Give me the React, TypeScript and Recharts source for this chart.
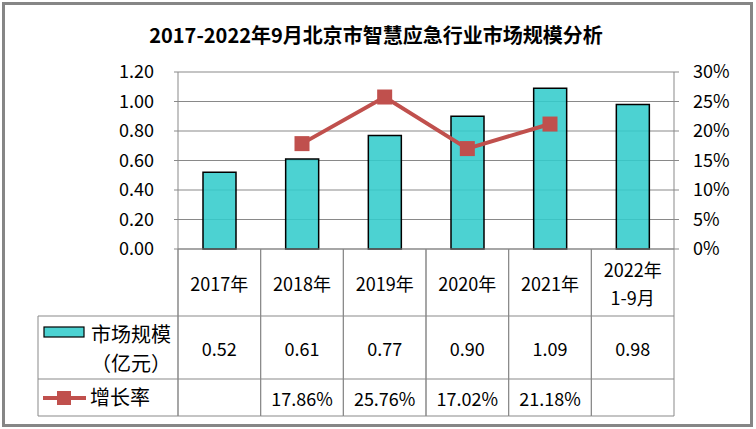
import React from "react";
import { ComposedChart, Bar, Line, XAxis, YAxis, CartesianGrid } from "recharts";

const categories = ["2017年", "2018年", "2019年", "2020年", "2021年", "2022年\n1-9月"];
const marketSize = [0.52, 0.61, 0.77, 0.9, 1.09, 0.98];
const growthRate: (number | null)[] = [null, 17.86, 25.76, 17.02, 21.18, null];
const leftTicks = [0, 0.2, 0.4, 0.6, 0.8, 1.0, 1.2];
const rightTicks = [0, 5, 10, 15, 20, 25, 30];
const sizeLabel = ["市场规模", "（亿元）"];
const rateLabel = "增长率";
const title = "2017-2022年9月北京市智慧应急行业市场规模分析";

const data = categories.map((name, i) => ({ name, size: marketSize[i], rate: growthRate[i] }));

// layout (page px)
const W = 756;
const H = 429;
const PLOT_L = 178;
const PLOT_R = 674;
const PLOT_T = 72;
const PLOT_B = 249;
const ROW1 = 316;
const ROW2 = 379;
const ROW3 = 416;
const TABLE_L = 38;

const FONT = "'Noto Sans CJK SC', 'Noto Sans', sans-serif";
const GRID = "#898989";
const BAR = "#33cccc";
const RED = "#c0504d";
const FS = 18;

// one column of the data table under each category
function TableColumn(props: any) {
  const { x, payload } = props;
  const i = payload.index;
  const bw = (PLOT_R - PLOT_L) / categories.length;
  const l = x - bw / 2;
  const r = x + bw / 2;
  const lines = String(payload.value).split("\n");
  const midCat = (PLOT_B + ROW1) / 2;
  const txt = { fontFamily: FONT, fontSize: FS, fill: "#000", textAnchor: "middle" as const, dominantBaseline: "central" as const };
  return (
    <g>
      <line x1={l} y1={PLOT_B} x2={l} y2={ROW3} stroke={GRID} />
      <line x1={r} y1={PLOT_B} x2={r} y2={ROW3} stroke={GRID} />
      <line x1={l} y1={ROW1} x2={r} y2={ROW1} stroke={GRID} />
      <line x1={l} y1={ROW2} x2={r} y2={ROW2} stroke={GRID} />
      <line x1={l} y1={ROW3} x2={r} y2={ROW3} stroke={GRID} />
      {lines.map((s, k) => (
        <text key={k} x={x} y={midCat + (k - (lines.length - 1) / 2) * 28} {...txt}>{s}</text>
      ))}
      <text x={x} y={(ROW1 + ROW2) / 2} {...txt}>{marketSize[i].toFixed(2)}</text>
      {growthRate[i] != null && (
        <text x={x} y={(ROW2 + ROW3) / 2} {...txt}>{(growthRate[i] as number).toFixed(2)}%</text>
      )}
    </g>
  );
}

function SquareDot(props: any) {
  const { cx, cy, value } = props;
  if (value == null || cx == null || cy == null) return <g />;
  return <rect x={cx - 7.5} y={cy - 7.5} width={15} height={15} fill={RED} />;
}

export default function App() {
  const yMid = (n: number) => ({ fill: "#000", fontSize: FS, fontFamily: FONT, dy: n });
  return (
    <div style={{ position: "absolute", left: 0, top: 0, width: W, height: H, background: "#fff" }}>
      <div
        style={{
          position: "absolute", left: 2, top: 2, width: 751, height: 425,
          border: "3px solid #868686", boxSizing: "border-box",
        }}
      />
      <ComposedChart
        width={W}
        height={H}
        data={data}
        margin={{ top: PLOT_T, right: W - PLOT_R - 60, bottom: 13, left: PLOT_L - 60 }}
        style={{ position: "absolute", left: 0, top: 0 }}
      >
        <CartesianGrid yAxisId="left" vertical={false} stroke={GRID} />
        <XAxis
          dataKey="name"
          interval={0}
          tickLine={false}
          tickSize={0}
          tickMargin={0}
          axisLine={{ stroke: GRID }}
          height={ROW3 - PLOT_B}
          tick={<TableColumn />}
        />
        <YAxis
          yAxisId="left"
          width={60}
          domain={[0, 1.2]}
          ticks={leftTicks}
          tickFormatter={(v: number) => v.toFixed(2)}
          axisLine={{ stroke: GRID }}
          tickLine={{ stroke: GRID }}
          tickSize={4}
          tickMargin={20}
          tick={yMid(0)}
        />
        <YAxis
          yAxisId="right"
          orientation="right"
          width={60}
          domain={[0, 30]}
          ticks={rightTicks}
          tickFormatter={(v: number) => `${v}%`}
          axisLine={{ stroke: GRID }}
          tickLine={{ stroke: GRID }}
          tickSize={5}
          tickMargin={14}
          tick={yMid(0)}
        />
        <Bar
          yAxisId="left"
          dataKey="size"
          fill={BAR}
          fillOpacity={0.88}
          stroke="#000"
          strokeWidth={1.5}
          barSize={33}
          isAnimationActive={false}
        />
        <Line
          yAxisId="right"
          dataKey="rate"
          stroke={RED}
          strokeWidth={4}
          dot={<SquareDot />}
          activeDot={false}
          connectNulls={false}
          isAnimationActive={false}
        />
      </ComposedChart>
      <svg width={W} height={H} style={{ position: "absolute", left: 0, top: 0, pointerEvents: "none" }}>
        <text x={376} y={34} fontFamily={FONT} fontSize={20} fontWeight={700} textAnchor="middle" dominantBaseline="central" fill="#000">
          {title}
        </text>
        {/* legend column of the data table */}
        <line x1={TABLE_L} y1={ROW1} x2={PLOT_L} y2={ROW1} stroke={GRID} />
        <line x1={TABLE_L} y1={ROW2} x2={PLOT_L} y2={ROW2} stroke={GRID} />
        <line x1={TABLE_L} y1={ROW3} x2={PLOT_L} y2={ROW3} stroke={GRID} />
        <line x1={TABLE_L} y1={ROW1} x2={TABLE_L} y2={ROW3} stroke={GRID} />
        <line x1={PLOT_L} y1={PLOT_B} x2={PLOT_L} y2={ROW3} stroke={GRID} />
        <rect x={44} y={327} width={40} height={10} fill={BAR} fillOpacity={0.88} stroke="#000" strokeWidth={1.2} />
        <text x={131} y={333} fontFamily={FONT} fontSize={20} textAnchor="middle" dominantBaseline="central">{sizeLabel[0]}</text>
        <text x={131} y={362} fontFamily={FONT} fontSize={20} textAnchor="middle" dominantBaseline="central">{sizeLabel[1]}</text>
        <line x1={43} y1={398} x2={86} y2={398} stroke={RED} strokeWidth={4} />
        <rect x={57} y={391} width={14} height={14} fill={RED} />
        <text x={90} y={396} fontFamily={FONT} fontSize={20} dominantBaseline="central">{rateLabel}</text>
      </svg>
    </div>
  );
}
